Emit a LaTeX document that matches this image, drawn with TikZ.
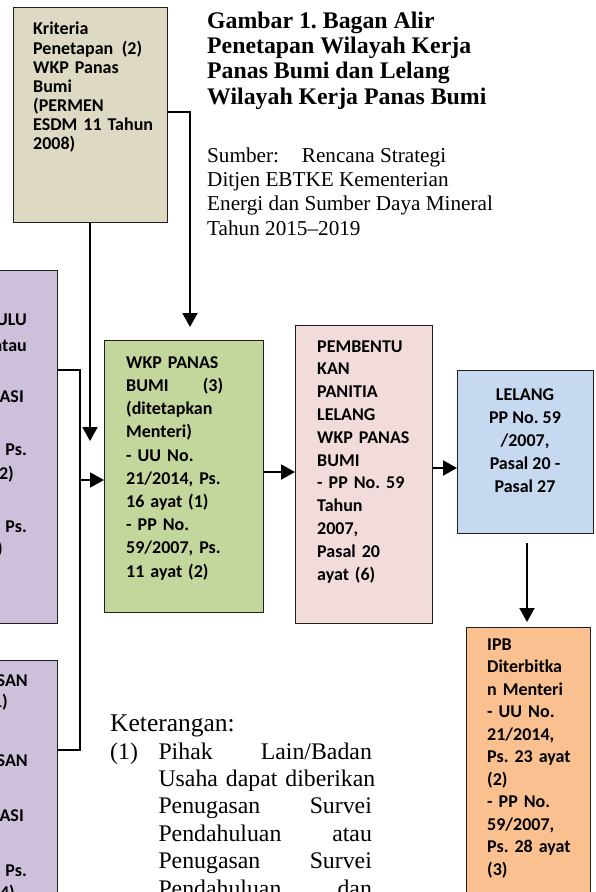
\documentclass[tikz,border=0pt]{standalone}
\usepackage{fontspec}
\setmainfont{Liberation Serif}
\newfontfamily\boxfont{Carlito}
\usetikzlibrary{arrows.meta}
\frenchspacing
\definecolor{cKri}{RGB}{221,217,195}
\definecolor{cPur}{RGB}{204,192,218}
\definecolor{cGrn}{RGB}{195,214,155}
\definecolor{cPnk}{RGB}{242,220,219}
\definecolor{cBlu}{RGB}{198,217,241}
\definecolor{cOrg}{RGB}{250,192,144}
\definecolor{cEdge}{RGB}{30,30,30}
\begin{document}
\frenchspacing
\begin{tikzpicture}[x=1pt,y=-1pt,
  box/.style={draw=cEdge, line width=1.4pt, anchor=north west, inner sep=0pt},
  btxt/.style={anchor=north west, inner sep=0pt, align=left, font=\boxfont\bfseries\frenchspacing\fontsize{18}{#1}\selectfont},
  ptxt/.style={anchor=base east, inner sep=0pt, font=\boxfont\bfseries\fontsize{18}{22}\selectfont},
  conn/.style={line width=2pt, draw=black},
  arr/.style={conn, -{Triangle[length=14pt,width=15pt]}},
]
\useasboundingbox (0,0) rectangle (595,892);
\clip (0,0) rectangle (595,892);

% ---------- boxes ----------
\node[box, fill=cKri, minimum width=154pt, minimum height=215pt] (kri) at (13,7) {};
\node[box, fill=cPur, minimum width=77pt, minimum height=353pt] (pu1) at (-20,270) {};
\node[box, fill=cPur, minimum width=77pt, minimum height=260pt] (pu2) at (-20,660) {};
\node[box, fill=cGrn, minimum width=159pt, minimum height=272pt] (wkp) at (104,340) {};
\node[box, fill=cPnk, minimum width=137pt, minimum height=298pt] (pnk) at (295,325) {};
\node[box, fill=cBlu, minimum width=136pt, minimum height=163pt] (blu) at (457,370) {};
\node[box, fill=cOrg, minimum width=124pt, minimum height=300pt] (org) at (466,627) {};

% ---------- box texts ----------
\node[btxt=19, text width=130pt] (tkri) at (33,20.7) {\strut Kriteria\\\makebox[109pt][l]{Penetapan\hfill(2)}\\WKP Panas\\Bumi\\(PERMEN\\ESDM 11 Tahun\\2008)};
\node[btxt=23.2, text width=110pt] (twkp) at (126,351.8) {\strut WKP PANAS\\\makebox[97pt][l]{BUMI\hfill(3)}\\(ditetapkan\\Menteri)\\- UU No.\\21/2014, Ps.\\16 ayat (1)\\- PP No.\\59/2007, Ps.\\11 ayat (2)};
\node[btxt=22.8, text width=110pt] (tpnk) at (317,336) {\strut PEMBENTU\\KAN\\PANITIA\\LELANG\\WKP PANAS\\BUMI\\- PP No. 59\\Tahun\\2007,\\Pasal 20\\ayat (6)};
\node[btxt=23, anchor=north, align=center] (tblu) at (525,383.9) {\strut LELANG\\PP No. 59\\/2007,\\Pasal 20 -\\Pasal 27};
\node[btxt=22.5, text width=100pt] (torg) at (487,634.25) {\strut IPB\\Diterbitka\\n Menteri\\- UU No.\\21/2014,\\Ps. 23 ayat\\(2)\\- PP No.\\59/2007,\\Ps. 28 ayat\\(3)};

% partially visible texts of the left boxes
\node[ptxt] (a1) at (27,325) {ULU};
\node[ptxt] (a2) at (27,351) {atau};
\node[ptxt] (a3) at (24,402) {ASI};
\node[ptxt] (a4) at (27,455) {Ps.};
\node[ptxt] (a5) at (14,479) {2)};
\node[ptxt] (a6) at (27,532) {Ps.};
\node[ptxt] (a7) at (3,554) {)};
\node[ptxt] (b1) at (28,686) {SAN};
\node[ptxt] (b2) at (8,707) {1)};
\node[ptxt] (b3) at (28,766) {SAN};
\node[ptxt] (b4) at (24,821) {ASI};
\node[ptxt] (b5) at (27,876) {Ps.};
\node[ptxt] (b6) at (15,898) {4)};

% ---------- title and source ----------
\node[anchor=north west, inner sep=0pt, align=left, font=\bfseries\frenchspacing\fontsize{23.8}{25.3}\selectfont] (title) at (207,10.3)
  {\strut Gambar 1. Bagan Alir\\Penetapan Wilayah Kerja\\Panas Bumi dan Lelang\\Wilayah Kerja Panas Bumi};
\node[anchor=north west, inner sep=0pt, align=left, font=\fontsize{21.2}{24.3}\selectfont] (src) at (207,145)
  {\strut\makebox[94.7pt][l]{Sumber:}Rencana Strategi\\Ditjen EBTKE Kementerian\\Energi dan Sumber Daya Mineral\\Tahun 2015--2019};

% ---------- legend ----------
\node[anchor=base west, inner sep=0pt, font=\fontsize{25.5}{27}\selectfont] (ket) at (110,731) {Keterangan:};
\node[anchor=base west, inner sep=0pt, font=\fontsize{23.8}{27.4}\selectfont] (n1) at (110,759) {(1)};
\node[anchor=north west, inner sep=0pt, align=left, text width=216pt, font=\fontsize{23.8}{27.4}\selectfont] (l1) at (158.3,739.8)
  {\strut\makebox[213.4pt][l]{Pihak\hfill Lain/Badan}\\
   \makebox[213.4pt][s]{Usaha dapat diberikan}\\
   \makebox[213.4pt][l]{Penugasan\hfill Survei}\\
   \makebox[213.4pt][l]{Pendahuluan\hfill atau}\\
   \makebox[213.4pt][l]{Penugasan\hfill Survei}\\
   \makebox[213.4pt][l]{Pendahuluan\hfill dan}};

% ---------- connectors ----------
\coordinate (kc1) at (190,112);
\draw[arr, shorten >=13pt] (kri.east |- kc1) -- (kc1) -- (kc1 |- wkp.north);
\coordinate (kd) at (90,441);
\draw[arr] (kri.south -| kd) -- (kd);

\coordinate (pa) at (80,370);
\coordinate (pb) at (80,750);
\coordinate (pj) at (80,480);
\draw[conn] (pu1.east |- pa) -- (pa) -- (pj);
\draw[conn] (pu2.east |- pb) -- (pb) -- (pj);
\draw[arr] (pj) -- (pj -| wkp.west);

\coordinate (ga) at (270,472);
\draw[arr] (wkp.east |- ga) -- (pnk.west |- ga);
\coordinate (gb) at (440,468);
\draw[arr] (pnk.east |- gb) -- (blu.west |- gb);
\coordinate (gc) at (527,580);
\draw[arr, shorten <=9pt, shorten >=5pt] (blu.south -| gc) -- (org.north -| gc);
\end{tikzpicture}
\end{document}
